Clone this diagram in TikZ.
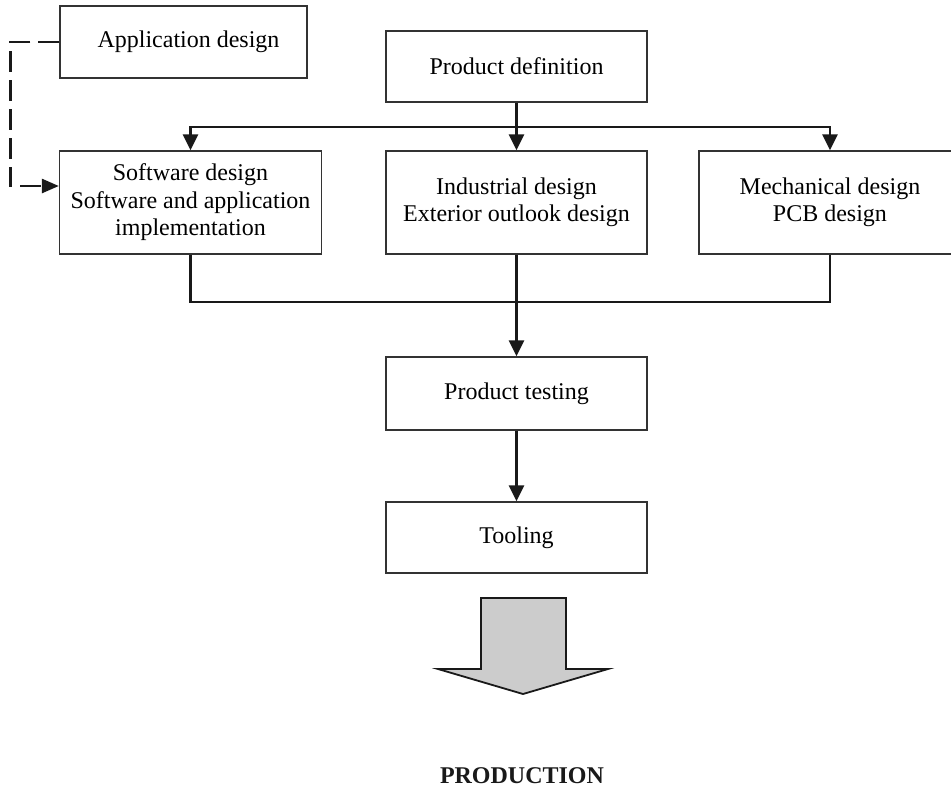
\documentclass[tikz,border=0pt]{standalone}
\usepackage{fontspec}
\setmainfont{Liberation Serif}
\usetikzlibrary{arrows.meta}

\begin{document}
\begin{tikzpicture}[x=1pt,y=-1pt,
  stepbox/.style={draw=black!80, line width=1.3pt, align=center, inner sep=0pt,
    font=\fontsize{24}{27.5}\selectfont},
  conn/.style={line width=2.6pt, black!90},
  tip/.style={-{Triangle[width=15pt,length=16pt]}},
  dashconn/.style={line width=2.7pt, black!90, dash pattern=on 21pt off 8pt,
    -{Triangle[width=14pt,length=17pt]}}
]
\useasboundingbox (0,0) rectangle (951,788);
\clip (0,0) rectangle (951,788);

% process boxes
\node[stepbox, minimum width=247pt, minimum height=72pt] (app) at (183.5,42)
  {\hspace*{10pt}Application design};
\node[stepbox, minimum width=261pt, minimum height=71pt] (pdef) at (516.5,66.5)
  {Product definition};
\node[stepbox, minimum width=262pt, minimum height=103pt] (soft) at (190.5,202.5)
  {Software design\\Software and application\\implementation};
\node[stepbox, minimum width=261pt, minimum height=103pt] (ind) at (516.5,202.5)
  {Industrial design\\Exterior outlook design};
\node[stepbox, minimum width=262pt, minimum height=103pt] (mech) at (830,202.5)
  {Mechanical design\\PCB design};
\node[stepbox, minimum width=261pt, minimum height=73pt] (test) at (516.5,393.5)
  {Product testing};
\node[stepbox, minimum width=261pt, minimum height=71pt] (tool) at (516.5,537.5)
  {Tooling};

% branching and merging points
\coordinate (split) at (516.5,127);
\coordinate (merge) at (516.5,302);

% product definition feeds the three design tracks
\draw[conn, tip] (pdef.south) -- (ind.north);
\draw[conn, tip] (split) -| (soft.north);
\draw[conn, tip] (split) -| (mech.north);

% design tracks join into testing
\draw[conn] (soft.south) |- (merge) -| (mech.south);
\draw[conn, tip] (ind.south) -- (test.north);
\draw[conn, tip] (test.south) -- (tool.north);

% application design feeds software design
\draw[dashconn] (app.west) -- ++(-49,0) |- ([yshift=16.5pt]soft.west);

% block arrow towards production
\draw[line width=1.8pt, black!90, fill=black!20, line join=miter]
  (481,598) -- (566,598) -- (566,669) -- (608,669) -- (523,694)
  -- (438,669) -- (481,669) -- cycle;

\node[font=\fontsize{24}{27.5}\selectfont\bfseries, black!90] (prod) at (522,776)
  {PRODUCTION};
\end{tikzpicture}
\end{document}
